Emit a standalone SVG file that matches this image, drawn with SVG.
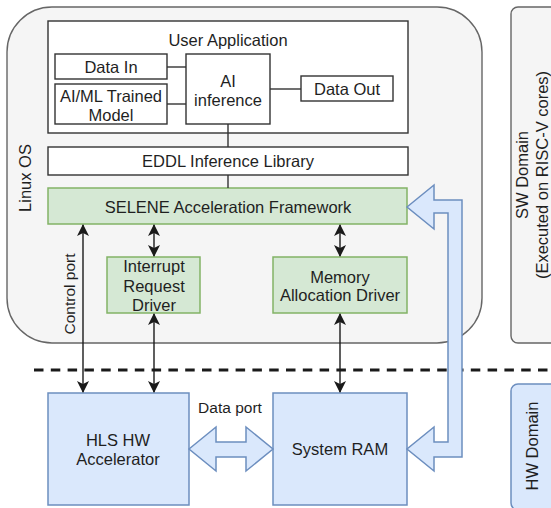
<svg xmlns="http://www.w3.org/2000/svg" width="551" height="508" viewBox="0 0 551 508">
<defs>
<marker id="ah" viewBox="0 0 12 12" refX="11" refY="6" markerWidth="12" markerHeight="12" markerUnits="userSpaceOnUse" orient="auto-start-reverse">
<path d="M0,0 L12,6 L0,12 L3,6 z" fill="#1a1a1a"/>
</marker>
<style>
text{font-family:"Liberation Sans",Arial,sans-serif;font-size:16.5px;fill:#1f1f1f;text-anchor:middle;dominant-baseline:central}
.sm{font-size:15.5px}
.wbox{fill:#ffffff;stroke:#333333;stroke-width:1.4}
.green{fill:#d5e8d4;stroke:#82b366;stroke-width:1.5}
.blue{fill:#dae8fc;stroke:#6c8ebf;stroke-width:1.5}
.grey{fill:#f5f5f5;stroke:#666666;stroke-width:1.4}
.ln{stroke:#333333;stroke-width:1.4;fill:none}
.arr{stroke:#1a1a1a;stroke-width:1.4;fill:none;marker-start:url(#ah);marker-end:url(#ah)}
</style>
</defs>

<g id="linux-os">
<rect class="grey" x="7" y="7" width="475" height="336" rx="45" ry="45"/>
<text transform="translate(25,178) rotate(-90)">Linux OS</text>
</g>

<g id="sw-domain">
<rect class="grey" x="511" y="7" width="46" height="336" rx="7" ry="7"/>
<text transform="translate(522,175) rotate(-90)">SW Domain</text>
<text transform="translate(542,175) rotate(-90)">(Executed on RISC-V cores)</text>
</g>

<g id="hw-domain">
<rect class="blue" x="511" y="384" width="46" height="126" rx="7" ry="7"/>
<text transform="translate(532,446) rotate(-90)">HW Domain</text>
</g>

<g id="user-application">
<rect class="wbox" x="48" y="21" width="360" height="112"/>
<text x="228" y="40">User Application</text>
</g>

<g id="data-in">
<rect class="wbox" x="55" y="54" width="112" height="25"/>
<text x="111" y="67">Data In</text>
</g>

<g id="trained-model">
<rect class="wbox" x="55" y="84" width="112" height="40"/>
<text x="111" y="96">AI/ML Trained</text>
<text x="111" y="115">Model</text>
</g>

<g id="ai-inference">
<rect class="wbox" x="186" y="54" width="84" height="70"/>
<text x="228" y="81">AI</text>
<text x="228" y="100">inference</text>
</g>

<g id="data-out">
<rect class="wbox" x="301" y="76" width="92" height="25"/>
<text x="347" y="89">Data Out</text>
</g>

<g id="eddl">
<rect class="wbox" x="48" y="147" width="360" height="28"/>
<text x="228" y="161">EDDL Inference Library</text>
</g>

<g id="selene">
<rect class="green" x="48" y="188" width="359" height="36"/>
<text x="228" y="207">SELENE Acceleration Framework</text>
</g>

<g id="irq-driver">
<rect class="green" x="107" y="257" width="93" height="56"/>
<text x="154" y="266">Interrupt</text>
<text x="154" y="286">Request</text>
<text x="154" y="305">Driver</text>
</g>

<g id="mem-driver">
<rect class="green" x="273" y="257" width="134" height="56"/>
<text x="340" y="277">Memory</text>
<text x="340" y="295">Allocation Driver</text>
</g>

<g id="hls-accel">
<rect class="blue" x="48" y="393" width="141" height="112"/>
<text x="118" y="440">HLS HW</text>
<text x="118" y="459">Accelerator</text>
</g>

<g id="system-ram">
<rect class="blue" x="273" y="393" width="134" height="112"/>
<text x="340" y="449">System RAM</text>
</g>

<g id="separator">
<line x1="34" y1="370" x2="551" y2="370" stroke="#1a1a1a" stroke-width="3" stroke-dasharray="9.5 7.3"/>
</g>

<g id="connectors">
<line class="ln" x1="167" y1="67" x2="186" y2="67"/>
<line class="ln" x1="167" y1="104" x2="186" y2="104"/>
<line class="ln" x1="270" y1="89" x2="301" y2="89"/>
<line class="ln" x1="228" y1="124" x2="228" y2="147"/>
<line class="ln" x1="228" y1="175" x2="228" y2="188"/>
<line class="arr" x1="154" y1="225" x2="154" y2="256"/>
<line class="arr" x1="340" y1="225" x2="340" y2="256"/>
<line class="arr" x1="83" y1="225" x2="83" y2="392"/>
<line class="arr" x1="154" y1="314" x2="154" y2="392"/>
<line class="arr" x1="340" y1="314" x2="340" y2="392"/>
<text class="sm" transform="translate(69,294) rotate(-90)">Control port</text>
<text class="sm" x="230" y="407">Data port</text>
<polygon class="blue" points="189,449 216,427 216,442 246,442 246,427 273,449 246,471 246,457 216,457 216,471"/>
<polygon class="blue" points="407,207 434,185 434,200 462,200 462,457 434,457 434,471 407,449 434,427 434,442 448,442 448,213 434,213 434,229"/>
</g>
</svg>
